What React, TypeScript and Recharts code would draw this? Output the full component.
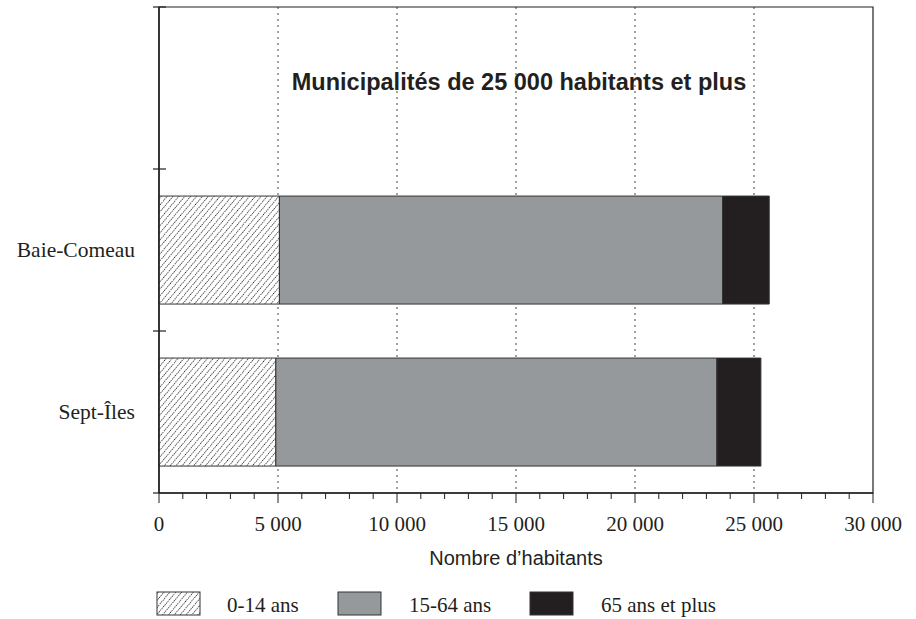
import { BarChart, Bar, XAxis, YAxis, CartesianGrid, Label, ReferenceArea } from 'recharts';

const categories = ['', 'Baie-Comeau', 'Sept-Îles'];
const age0to14 = [null, 5060, 4910];
const age15to64 = [null, 18620, 18530];
const age65plus = [null, 1960, 1850];

const majorTicks = [0, 5000, 10000, 15000, 20000, 25000, 30000];
const gridValues = [5000, 10000, 15000, 20000, 25000];
const allTicks = Array.from({ length: 31 }, (_, i) => i * 1000);

const series = [
  { key: 'a', name: '0-14 ans', fill: 'url(#hatch)' },
  { key: 'b', name: '15-64 ans', fill: '#96999b' },
  { key: 'c', name: '65 ans et plus', fill: '#231f20' },
];

const data = categories.map((name, i) => ({
  name,
  a: age0to14[i],
  b: age15to64[i],
  c: age65plus[i],
}));

const serif = '"Liberation Serif", "Times New Roman", serif';
const sans = '"Liberation Sans", Arial, sans-serif';
const ink = '#231f20';

const fmt = (v: number) => (v === 0 ? '0' : v.toLocaleString('en-US').replace(/,/g, ' '));

function XTick(props: any) {
  const { x, y, payload } = props;
  const major = majorTicks.includes(payload.value);
  return (
    <g>
      <line x1={x} x2={x} y1={y} y2={y + (major ? 10 : 6)} stroke={ink} strokeWidth={1} />
      {major && (
        <text x={x} y={y + 38} textAnchor="middle" fontFamily={serif} fontSize={21} fill={ink}>
          {fmt(payload.value)}
        </text>
      )}
    </g>
  );
}

function YTick(props: any) {
  const { x, y, payload, index } = props;
  const off = payload.offset ?? 0;
  const last = index === categories.length - 1;
  return (
    <g>
      <line x1={x - 6} x2={x + 7} y1={y - off} y2={y - off} stroke={ink} strokeWidth={1.2} />
      {last && <line x1={x - 6} x2={x} y1={y + off} y2={y + off} stroke={ink} strokeWidth={1.2} />}
      <text x={x - 24} y={y} textAnchor="end" dominantBaseline="central" fontFamily={serif} fontSize={21.5} fill={ink}>
        {payload.value}
      </text>
    </g>
  );
}

const legendPos = [
  { box: 157, text: 227 },
  { box: 338, text: 409 },
  { box: 530, text: 601 },
];

export default function App() {
  return (
    <div style={{ position: 'absolute', left: 0, top: 0, width: 916, height: 619, background: '#fff' }}>
      <svg width={0} height={0} style={{ position: 'absolute' }}>
        <defs>
          <pattern id="hatch" width={4.5} height={4.5} patternUnits="userSpaceOnUse" patternTransform="rotate(-50)">
            <rect width={4.5} height={4.5} fill="#fff" />
            <line x1={0} y1={2.25} x2={4.5} y2={2.25} stroke="#222" strokeWidth={1.1} strokeDasharray="1.2 1.05" />
          </pattern>
        </defs>
      </svg>
      <BarChart
        width={916}
        height={619}
        data={data}
        layout="vertical"
        margin={{ top: 7, right: 43, bottom: 0, left: 0 }}
        barCategoryGap="16.7%"
      >
        <CartesianGrid horizontal={false} verticalValues={gridValues} stroke="#444" strokeDasharray="2 4" />
        <XAxis
          type="number"
          domain={[0, 30000]}
          ticks={allTicks}
          interval={0}
          height={126}
          tickLine={false}
          tickSize={0}
          tickMargin={0}
          tick={<XTick />}
          axisLine={{ stroke: ink, strokeWidth: 1.5 }}
        >
          <Label
            value="Nombre d’habitants"
            position="insideTop"
            offset={58}
            style={{ fontFamily: sans, fontSize: 20, fill: ink }}
          />
        </XAxis>
        <YAxis
          type="category"
          dataKey="name"
          width={159}
          interval={0}
          tickLine={false}
          tickSize={0}
          tickMargin={0}
          tick={<YTick />}
          axisLine={{ stroke: ink, strokeWidth: 1.5 }}
        />
        {series.map((s) => (
          <Bar
            key={s.key}
            dataKey={s.key}
            name={s.name}
            stackId="pop"
            fill={s.fill}
            stroke="#333"
            strokeWidth={1}
            isAnimationActive={false}
          />
        ))}
        <ReferenceArea x1={0} x2={30000} fill="none" fillOpacity={0} stroke={ink} strokeWidth={1.2} />
      </BarChart>
      <svg width={916} height={619} style={{ position: 'absolute', left: 0, top: 0, pointerEvents: 'none' }}>
        <text x={519} y={90} textAnchor="middle" fontFamily={sans} fontWeight="bold" fontSize={23.5} fill={ink}>
          Municipalités de 25 000 habitants et plus
        </text>
        {series.map((s, i) => (
          <g key={s.key}>
            <rect x={legendPos[i].box} y={592} width={43} height={23} fill={s.fill} stroke="#333" strokeWidth={1} />
            <text x={legendPos[i].text} y={612} fontFamily={serif} fontSize={21} fill={ink}>
              {s.name}
            </text>
          </g>
        ))}
      </svg>
    </div>
  );
}
